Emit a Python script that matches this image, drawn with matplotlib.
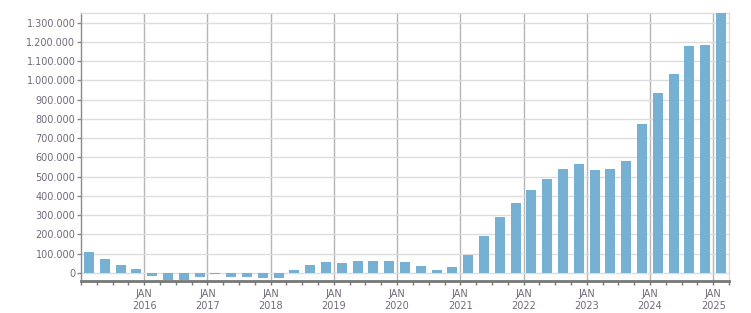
import matplotlib
matplotlib.use("Agg")
import matplotlib.pyplot as plt
from matplotlib.ticker import FuncFormatter, MultipleLocator
import numpy as np

# quarterly values, Q1 2015 .. Q1 2025
values = [
    110000, 74000, 43000, 22000,        # 2015
    -17000, -35000, -35000, -22000,     # 2016
    -3500, -19000, -22000, -24000,      # 2017
    -24000, 15600, 41500, 57000,        # 2018
    52000, 62000, 62000, 62000,         # 2019
    57000, 36000, 15600, 31000,         # 2020
    93500, 192000, 292000, 365000,      # 2021
    433000, 490000, 542000, 568000,     # 2022
    532000, 542000, 583000, 776000,     # 2023
    937000, 1035000, 1181000, 1186000,  # 2024
    1360000,                            # 2025
]
years = list(range(2016, 2026))
year_labels = [f"JAN\n{y}" for y in years]

bar_color = "#76b0d3"
text_color = "#72697a"

fig = plt.figure(figsize=(7.51, 3.13), dpi=100)
ax = fig.add_axes([81 / 751, 1 - 281 / 313, 648 / 751, 268 / 313])

x = 2015 + (np.arange(len(values)) + 0.5) * 0.25
ax.bar(x, values, width=0.158, color=bar_color, zorder=3)

ax.set_xlim(2015, 2025.25)
ax.set_ylim(-42000, 1350000)

ax.yaxis.set_major_locator(MultipleLocator(100000))
ax.yaxis.set_major_formatter(FuncFormatter(lambda v, _: f"{int(v):,}".replace(",", ".")))
ax.set_xticks(years)
ax.set_xticklabels(year_labels)
ax.xaxis.set_minor_locator(MultipleLocator(0.25))

ax.grid(axis="y", color="#dddddd", linewidth=1, zorder=0)
ax.grid(axis="x", which="major", color="#b5b5b5", linewidth=1, zorder=1)

for side in ("top", "right"):
    ax.spines[side].set_color("#dddddd")
    ax.spines[side].set_linewidth(1)
ax.spines["left"].set_color("#8a8a8a")
ax.spines["left"].set_linewidth(1)
ax.spines["bottom"].set_color("#777777")
ax.spines["bottom"].set_linewidth(2)

ax.tick_params(axis="y", length=3, width=1, color="#8a8a8a", labelsize=7,
               labelcolor=text_color, pad=1)
ax.tick_params(axis="x", which="both", length=3, width=1, color="#777777",
               labelsize=7, labelcolor=text_color, pad=3)

fig.savefig("out.png", dpi=100)
